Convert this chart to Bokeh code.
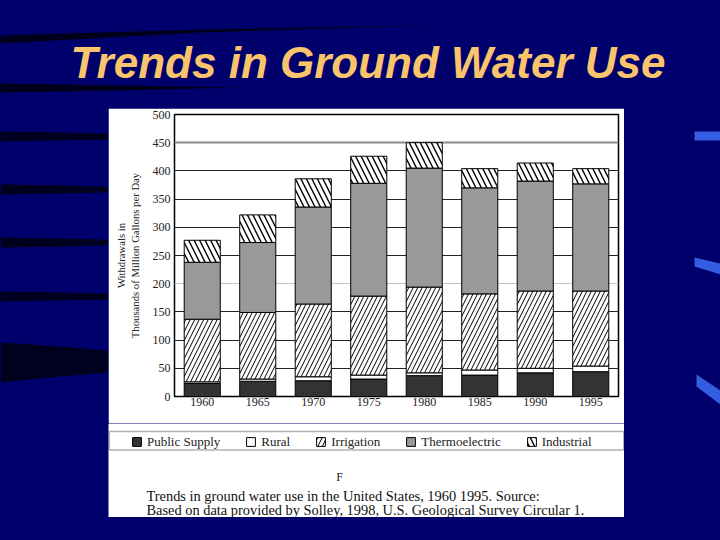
from bokeh.plotting import figure
from bokeh.layouts import column, row
from bokeh.models import (ColumnDataSource, FactorRange, Range1d, FixedTicker, Grid,
                          Legend, LegendItem, Label, BoxAnnotation)
from bokeh.embed import file_html
from bokeh.resources import INLINE

# ---------------- data ----------------
years = ["1960", "1965", "1970", "1975", "1980", "1985", "1990", "1995"]
public_supply = [23, 27, 28, 31, 37, 38, 42, 44]
rural = [3, 4, 7, 7, 5, 9, 8, 10]
irrigation = [111, 118, 129, 140, 152, 135, 137, 133]
thermoelectric = [101, 124, 172, 200, 211, 188, 195, 190]
industrial = [39, 49, 50, 48, 45, 34, 32, 27]
series_keys = ["public_supply", "rural", "irrigation", "thermoelectric", "industrial"]
series_names = ["Public Supply", "Rural", "Irrigation", "Thermoelectric", "Industrial"]
y_ticks = [0, 50, 100, 150, 200, 250, 300, 350, 400, 450, 500]

title_text = "Trends in Ground Water Use"
y_label = "Withdrawals in\nThousands of Million Gallons per Day"
figure_letter = "F"
caption_1 = "Trends in ground water use in the United States, 1960  1995. Source:"
caption_2 = "Based on data provided by Solley, 1998, U.S. Geological Survey Circular 1."

# ---------------- styles ----------------
NAVY = "#00006c"
SERIF = "Liberation Serif"
fills = ["#333333", "white", "white", "#999999", "white"]
hatches = [" ", " ", "/", " ", "\\"]
hatch_scales = [9, 9, 9, 9, 11]
hatch_weights = [1, 1, 1, 1, 1.4]

source = ColumnDataSource(data=dict(
    year=years, public_supply=public_supply, rural=rural, irrigation=irrigation,
    thermoelectric=thermoelectric, industrial=industrial))


def deco_fig(x0, x1, y0, y1):
    """Plain navy figure whose data coordinates equal page pixels."""
    f = figure(width=x1 - x0, height=y1 - y0, output_backend="svg", toolbar_location=None,
               x_range=Range1d(x0, x1), y_range=Range1d(y1, y0),
               x_axis_type=None, y_axis_type=None, min_border=0)
    f.frame_align = False
    f.background_fill_color = NAVY
    f.border_fill_color = NAVY
    f.outline_line_color = None
    return f


# ---------------- top: slide title ----------------
top = deco_fig(0, 720, 0, 108)
top.patches(xs=[[0, 200, 430, 200, 0], [0, 120, 240, 120, 0]],
            ys=[[35, 29, 25, 32, 43], [83, 85, 87, 90, 92]],
            fill_color="#00000c", fill_alpha=0.85, line_color=None)
top.add_layout(Label(x=367.5, y=62, text=title_text, text_align="center",
                     text_baseline="middle", text_font="Liberation Sans",
                     text_font_style="bold italic", text_font_size="44px",
                     text_color="#f9c46b"))

# ---------------- left / right / bottom decoration ----------------
left = deco_fig(0, 108, 108, 517)
left.patches(xs=[[0, 60, 108, 108, 60, 0]] * 5,
             ys=[[131, 132, 133, 139, 140, 141],
                 [184, 185, 186, 192, 193, 194],
                 [237, 238, 239, 245, 246, 247],
                 [291, 292, 293, 299, 300, 301],
                 [342, 346, 350, 372, 376, 382]],
             fill_color="#00000c", fill_alpha=0.8, line_color=None)
right = deco_fig(624, 720, 108, 517)
right.patches(xs=[[694, 720, 720, 694], [694, 720, 720, 694], [696, 720, 720, 696]],
              ys=[[131, 131, 140, 140], [257, 263, 274, 266], [374, 390, 404, 386]],
              fill_color="#3a68f0", fill_alpha=0.9, line_color=None)
bottom = deco_fig(0, 720, 517, 540)

# ---------------- chart ----------------
p = figure(width=516, height=315, output_backend="svg", toolbar_location=None,
           x_range=FactorRange(factors=years, range_padding=0),
           y_range=Range1d(0, 500),
           min_border_left=66, min_border_right=6, min_border_top=6, min_border_bottom=27)
p.frame_align = False
p.border_fill_color = "white"
p.background_fill_color = "white"
p.outline_line_color = "black"
p.outline_line_width = 1.5
p.xgrid.visible = False

p.yaxis.ticker = FixedTicker(ticks=y_ticks)
for ax in (p.xaxis, p.yaxis):
    ax.axis_line_color = None
    ax.major_tick_line_color = None
    ax.minor_tick_line_color = None
    ax.major_tick_out = 0
    ax.major_tick_in = 0
    ax.minor_tick_out = 0
    ax.minor_tick_in = 0
    ax.major_label_text_font = SERIF
    ax.major_label_text_font_size = "12px"
    ax.major_label_text_color = "#222222"
p.yaxis.major_label_standoff = 4
p.xaxis.major_label_standoff = 1
p.yaxis.axis_label = y_label
p.yaxis.axis_label_text_font = SERIF
p.yaxis.axis_label_text_font_size = "10.7px"
p.yaxis.axis_label_text_font_style = "normal"
p.yaxis.axis_label_text_color = "#222222"
p.yaxis.axis_label_text_line_height = 1.15
p.yaxis.axis_label_standoff = 9

p.ygrid.ticker = FixedTicker(ticks=[50, 100, 150, 250, 300, 350, 400])
p.ygrid.grid_line_color = "#222222"
p.ygrid.grid_line_width = 1
p.add_layout(Grid(dimension=1, ticker=FixedTicker(ticks=[200]),
                  grid_line_color="#c4c4c4", grid_line_width=1))
p.add_layout(Grid(dimension=1, ticker=FixedTicker(ticks=[450]),
                  grid_line_color="#8a8a8a", grid_line_width=2))

p.vbar_stack(series_keys, x="year", width=0.65, source=source,
             fill_color=fills, line_color="black", line_width=1,
             hatch_pattern=hatches, hatch_color="black",
             hatch_scale=hatch_scales, hatch_weight=hatch_weights)

# ---------------- legend strip + caption ----------------
g = figure(width=516, height=94, output_backend="svg", toolbar_location=None,
           x_range=Range1d(108, 624), y_range=Range1d(517, 423),
           x_axis_type=None, y_axis_type=None, min_border=0)
g.frame_align = False
g.background_fill_color = "white"
g.border_fill_color = "white"
g.outline_line_color = None
g.add_layout(BoxAnnotation(left=108.75, right=623.25, top=431, bottom=449.5,
                           fill_alpha=0, line_color="black", line_width=1.5))
# legend swatches: zero-height bars that only carry the series styles
swatch_src = ColumnDataSource(data=dict(x=[0], top=[0]))
swatches = []
for fc, hp, hs, hw in zip(fills, hatches, hatch_scales, hatch_weights):
    swatches.append(g.vbar(x="x", top="top", width=1, source=swatch_src,
                           fill_color=fc, line_color="black",
                           line_width=1, hatch_pattern=hp, hatch_color="black",
                           hatch_scale=hs, hatch_weight=hw))
legend = Legend(items=[LegendItem(label=n, renderers=[r]) for n, r in zip(series_names, swatches)],
                orientation="horizontal", location=(131 - 108, 517 - 449.5),
                padding=2, margin=0, spacing=25, glyph_width=11, glyph_height=11,
                label_standoff=5, label_height=11,
                label_text_font=SERIF, label_text_font_size="13px",
                label_text_color="#222222",
                border_line_color=None, background_fill_alpha=0)
g.add_layout(legend, "center")
g.add_layout(Label(x=339, y=476, text=figure_letter, text_align="center", text_baseline="middle",
                   text_font=SERIF, text_font_size="12px", text_color="#222222"))
g.add_layout(Label(x=146, y=495.5, text=caption_1, text_align="left", text_baseline="middle",
                   text_font=SERIF, text_font_size="14.4px", text_color="#111111"))
g.add_layout(Label(x=146, y=509, text=caption_2, text_align="left", text_baseline="middle",
                   text_font=SERIF, text_font_size="14.4px", text_color="#111111"))

center_col = column(p, g)
middle = row(left, center_col, right)
middle.styles = {"background-color": NAVY}
layout = column(top, middle, bottom)
layout.styles = {"background-color": NAVY}
open("out.html", "w").write(file_html(layout, INLINE))
